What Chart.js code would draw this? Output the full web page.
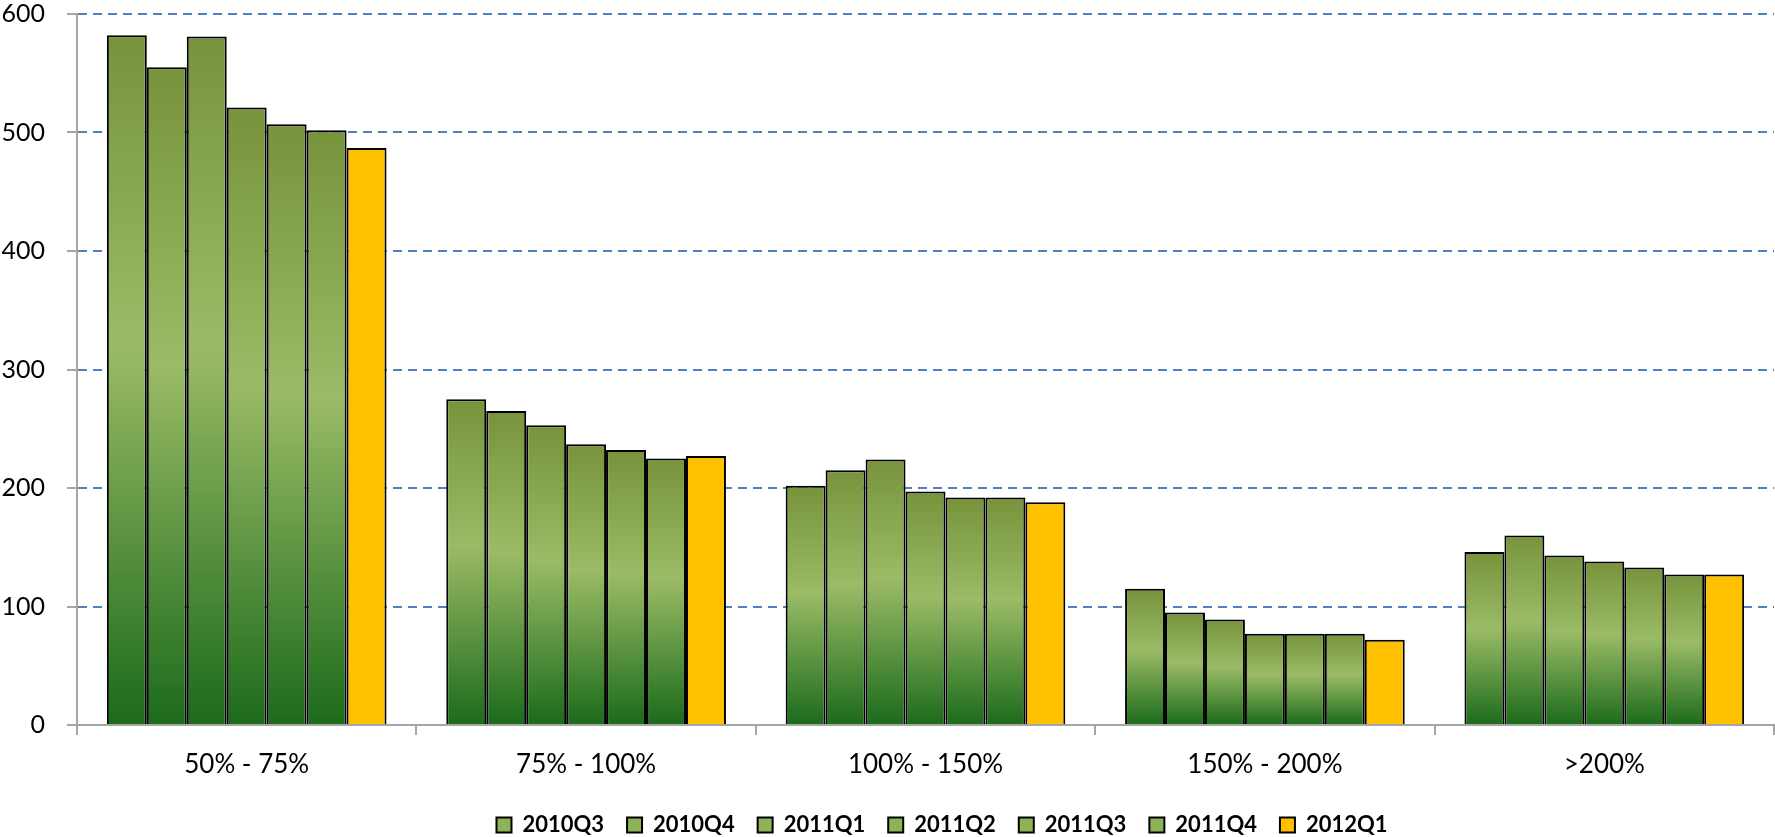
<!DOCTYPE html>
<html>
<head>
<meta charset="utf-8">
<script src="https://cdn.jsdelivr.net/npm/chart.js@4/dist/chart.umd.min.js"></script>
<style>
  html, body { margin: 0; padding: 0; background: #fff; }
  canvas { display: block; }
</style>
</head>
<body>
<canvas id="chart" width="1775" height="837"></canvas>
<script>
// ranges on the x axis
const categories = ['50% - 75%', '75% - 100%', '100% - 150%', '150% - 200%', '>200%'];

// one list per quarter, same order as categories
const seriesNames = ['2010Q3', '2010Q4', '2011Q1', '2011Q2', '2011Q3', '2011Q4', '2012Q1'];
const q2010Q3 = [582, 275, 202, 115, 146];
const q2010Q4 = [555, 265, 215, 95, 160];
const q2011Q1 = [581, 253, 224, 89, 143];
const q2011Q2 = [521, 237, 197, 77, 138];
const q2011Q3 = [507, 232, 192, 77, 133];
const q2011Q4 = [502, 225, 192, 77, 127];
const q2012Q1 = [487, 227, 188, 72, 127];

const yTicks = [0, 100, 200, 300, 400, 500, 600];

const seriesValues = [q2010Q3, q2010Q4, q2011Q1, q2011Q2, q2011Q3, q2011Q4, q2012Q1];

const YELLOW = '#ffc000';
const LEGEND_GREEN = '#8db356';

// green bars get a vertical gradient spanning each bar (olive -> light -> dark green)
function greenFill(c) {
    const chart = c.chart;
    if (c.type !== 'data' || !chart.chartArea) return LEGEND_GREEN;
    const y = chart.scales.y;
    const top = y.getPixelForValue(c.parsed.y);
    const bottom = y.getPixelForValue(0);
    const g = chart.ctx.createLinearGradient(0, top, 0, bottom);
    g.addColorStop(0, '#77933c');
    g.addColorStop(0.45, '#9bbb66');
    g.addColorStop(1, '#1b6b1b');
    return g;
}

const datasets = seriesNames.map((name, i) => ({
    label: name,
    data: seriesValues[i],
    backgroundColor: name === '2012Q1' ? YELLOW : greenFill,
    borderColor: '#000',
    borderWidth: 2,
    categoryPercentage: 0.824,
    barPercentage: 1
}));

// nudge the legend row to the right of centre
const legendShift = {
    id: 'legendShift',
    afterLayout(chart) {
        if (chart.legend) {
            chart.legend.left += 55;
            chart.legend.right += 55;
        }
    }
};

Chart.defaults.font.family = 'Lato, "Open Sans", sans-serif';
Chart.defaults.color = '#000';

new Chart(document.getElementById('chart').getContext('2d'), {
    type: 'bar',
    data: { labels: categories, datasets },
    plugins: [legendShift],
    options: {
        responsive: false,
        animation: false,
        layout: { padding: { top: 14, right: 1, left: 0, bottom: 0 } },
        scales: {
            x: {
                afterFit(scale) { scale.height = 66; },
                grid: {
                    offset: true,
                    drawOnChartArea: false,
                    color: '#a6a6a6',
                    lineWidth: 2,
                    tickLength: 10
                },
                border: { color: '#a6a6a6', width: 2 },
                ticks: { font: { size: 26 }, padding: 14, color: '#000' }
            },
            y: {
                min: 0,
                max: 600,
                afterFit(scale) {
                    scale.width = 77;
                    // keep the plot top at the layout padding
                    scale.paddingTop = 0;
                    scale.paddingBottom = 0;
                },
                afterBuildTicks(scale) { scale.ticks = yTicks.map(v => ({ value: v })); },
                grid: {
                    color: '#4f80c0',
                    lineWidth: 2,
                    tickColor: '#a6a6a6',
                    tickLength: 10,
                    tickWidth: 2
                },
                border: { color: '#a6a6a6', width: 2, dash: [9, 6] },
                ticks: { font: { size: 25 }, padding: 22, color: '#000' }
            }
        },
        plugins: {
            legend: {
                position: 'bottom',
                maxHeight: 46,
                labels: {
                    boxWidth: 15,
                    boxHeight: 15,
                    padding: 23,
                    color: '#000',
                    font: { size: 22, weight: 'bold' },
                    generateLabels(chart) {
                        const items = Chart.defaults.plugins.legend.labels.generateLabels(chart);
                        items.forEach(it => {
                            it.fillStyle = it.text === '2012Q1' ? YELLOW : LEGEND_GREEN;
                            it.strokeStyle = '#000';
                            it.lineWidth = 2;
                        });
                        return items;
                    }
                }
            },
            tooltip: { enabled: false }
        }
    }
});
</script>
</body>
</html>
